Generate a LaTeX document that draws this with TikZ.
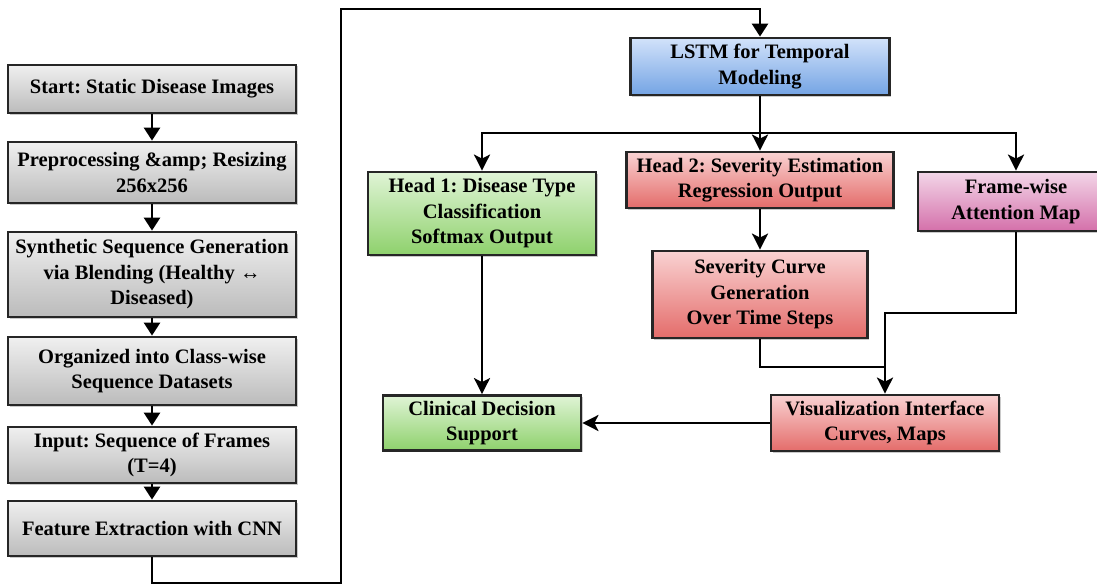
\documentclass[tikz,border=0pt]{standalone}
\usepackage{fontspec}
\setmainfont{Liberation Serif}
\usetikzlibrary{arrows.meta,positioning,shadows}
\frenchspacing

\definecolor{greytop}{HTML}{F0F0F0}
\definecolor{greybot}{HTML}{BBBBBB}
\definecolor{bluetop}{HTML}{D2E2FA}
\definecolor{bluebot}{HTML}{74A4E4}
\definecolor{redtop}{HTML}{F9D2D2}
\definecolor{redbot}{HTML}{E46C6A}
\definecolor{greentop}{HTML}{E0F4D6}
\definecolor{greenbot}{HTML}{8ED16C}
\definecolor{pinktop}{HTML}{F3D6E8}
\definecolor{pinkbot}{HTML}{D470AA}

\tikzset{
  box/.style={draw=black!85, line width=2.8pt, inner sep=0pt, align=center,
    font=\bfseries\fontsize{20.5}{25.5}\selectfont,
    drop shadow={shadow xshift=1.5pt, shadow yshift=-1.5pt, opacity=0.35, fill=black!60}},
  greybox/.style={box, top color=greytop, bottom color=greybot},
  bluebox/.style={box, top color=bluetop, bottom color=bluebot},
  redbox/.style={box, top color=redtop, bottom color=redbot},
  greenbox/.style={box, top color=greentop, bottom color=greenbot},
  pinkbox/.style={box, top color=pinktop, bottom color=pinkbot},
  wire/.style={line width=2.7pt},
  flow/.style={wire, -{Triangle[width=16pt,length=13pt]}},
  link/.style={wire, -{Stealth[width=16pt,length=16pt,inset=4pt]}}
}

\begin{document}
\begin{tikzpicture}[x=1pt,y=-1pt]
    \useasboundingbox (0,0) rectangle (1097,586);
    % Left column: data preparation
    \node[greybox, minimum width=288, minimum height=48] (start) at (152,89) {Start: Static Disease Images};
    \node[greybox, minimum width=288, minimum height=61] (prep) at (152,172.5) {Preprocessing \&amp; Resizing\\256x256};
    \node[greybox, minimum width=288, minimum height=85] (synth) at (152,274.5) {Synthetic Sequence Generation\\via Blending (Healthy ↔\\Diseased)};
    \node[greybox, minimum width=288, minimum height=68] (organ) at (152,371) {Organized into Class-wise\\Sequence Datasets};
    \node[greybox, minimum width=288, minimum height=56] (input) at (152,455) {Input: Sequence of Frames\\(T=4)};
    \node[greybox, minimum width=288, minimum height=55] (feat) at (152,528.5) {Feature Extraction with CNN};
    \draw[flow] (start) -- (prep);
    \draw[flow] (prep) -- (synth);
    \draw[flow] (synth) -- (organ);
    \draw[flow] (organ) -- (input);
    \draw[flow] (input) -- (feat);

    % Temporal model and heads
    \node[bluebox, minimum width=259, minimum height=57] (lstm) at (760,66.5) {LSTM for Temporal\\Modeling};
    \node[greenbox, minimum width=228, minimum height=83] (head1) at (482,213.5) {Head 1: Disease Type\\Classification\\Softmax Output};
    \node[redbox, minimum width=267, minimum height=56] (head2) at (760,180) {Head 2: Severity Estimation\\Regression Output};
    \node[pinkbox, minimum width=196, minimum height=59] (frame) at (1016,201.5) {Frame-wise\\Attention Map};
    \node[redbox, minimum width=215, minimum height=87] (curve) at (760,294.5) {Severity Curve\\Generation\\Over Time Steps};
    \node[redbox, minimum width=228, minimum height=56] (vis) at (885,423) {Visualization Interface\\Curves, Maps};
    \node[greenbox, minimum width=198, minimum height=55] (clinic) at (482,423) {Clinical Decision\\Support};

    % Feature path up to the LSTM
    \coordinate (turnlo) at (341,583);
    \coordinate (turnhi) at (341,9);
    \draw[flow] (feat.south) |- (turnlo) -- (turnhi) -| (lstm.north);

    % Branches
    \coordinate (split) at (760,133);
    \draw[link] (lstm.south) -- (head2.north);
    \draw[link] (split) -| (head1.north);
    \draw[link] (split) -| (frame.north);
    \draw[link] (head2.south) -- (curve.north);
    \coordinate (merge) at (885,367);
    \coordinate (bend) at (885,313);
    \draw[wire] (curve.south) |- (merge);
    \draw[link] (frame.south) |- (bend) -- (vis.north);
    \draw[link] (head1.south) -- (clinic.north);
    \draw[link] (vis.west) -- (clinic.east);
\end{tikzpicture}
\end{document}
